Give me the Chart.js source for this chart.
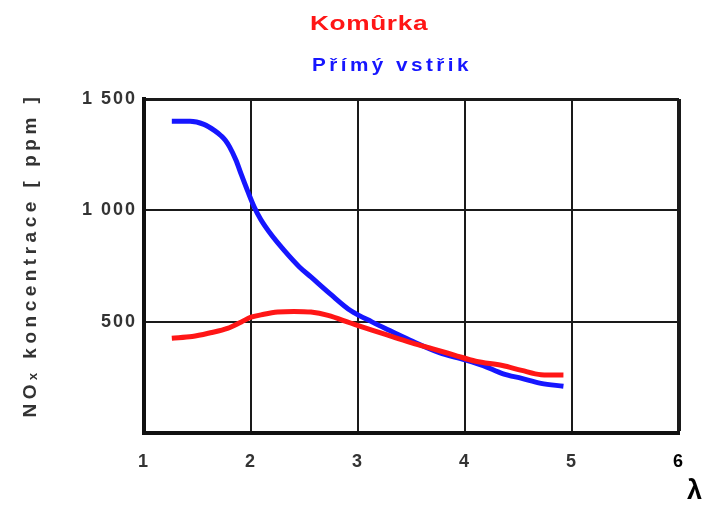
<!DOCTYPE html>
<html>
<head>
<meta charset="utf-8">
<script src="https://cdn.jsdelivr.net/npm/chart.js@4.4.0/dist/chart.umd.min.js"></script>
<style>
  html, body { margin: 0; padding: 0; background: #fff; }
  #wrap { width: 702px; height: 512px; }
</style>
</head>
<body>
<div id="wrap"><canvas id="noxChart"></canvas></div>
<script>
const seriesNames = ['Komûrka', 'Přímý vstřik'];
const komurkaX = [1.26, 1.45, 1.62, 1.78, 1.91, 2.0, 2.12, 2.25, 2.4, 2.56, 2.72, 2.93, 3.13, 3.32, 3.51, 3.7, 3.9, 4.1, 4.35, 4.53, 4.71, 4.92];
const komurkaY = [426, 433, 450, 470, 499, 520, 533, 543, 546, 543, 528, 494, 462, 433, 404, 378, 350, 322, 303, 281, 262, 260];
const vstrikX = [1.26, 1.43, 1.56, 1.66, 1.72, 1.76, 1.80, 1.86, 1.91, 1.97, 2.03, 2.09, 2.19, 2.31, 2.45, 2.56, 2.74, 2.93, 3.13, 3.32, 3.51, 3.76, 4.0, 4.17, 4.35, 4.53, 4.71, 4.92];
const vstrikY = [1400, 1400, 1386, 1358, 1335, 1315, 1285, 1225, 1160, 1085, 1015, 960, 890, 820, 747, 701, 625, 550, 499, 455, 412, 361, 329, 303, 267, 245, 223, 210];
const xTicks = [1, 2, 3, 4, 5, 6];
const yTicks = [0, 500, 1000, 1500];

const FONT = '"Liberation Sans", Arial, sans-serif';

function toPoints(xs, ys) {
  return xs.map((x, i) => ({ x: x, y: ys[i] }));
}

// czech style thousands: 1 500
function fmt(v) {
  if (v === 0) return '';
  const s = String(v);
  return s.length > 3 ? s.slice(0, -3) + ' ' + s.slice(-3) : s;
}

// nudge an axis title and letter-space it
function tweakTitle(scale, dx, dy, spacing) {
  if (scale._tweaked) return;
  const orig = scale.drawTitle.bind(scale);
  scale.drawTitle = function () {
    const ctx = this.ctx;
    ctx.save();
    ctx.translate(dx, dy);
    ctx.letterSpacing = spacing;
    orig();
    ctx.restore();
  };
  scale._tweaked = true;
}

const textTweaks = {
  id: 'textTweaks',
  beforeDraw(chart) {
    chart.ctx.letterSpacing = '2px';
    tweakTitle(chart.scales.y, 0, -11, '4.5px');
    tweakTitle(chart.scales.x, 23, 0, '0px');
  },
  afterDraw(chart) {
    // the two series names, stacked above the plot
    const ctx = chart.ctx;
    const area = chart.chartArea;
    chart.data.datasets.forEach((ds, i) => {
      ctx.save();
      ctx.textBaseline = 'middle';
      ctx.textAlign = 'left';
      ctx.font = i === 0 ? 'bold 21px ' + FONT : 'bold 18px ' + FONT;
      ctx.letterSpacing = i === 0 ? '0.5px' : '3px';
      ctx.fillStyle = ds.borderColor;
      ctx.translate(area.left + 166 + i * 2, 24 + i * 42);
      ctx.scale(i === 0 ? 1.25 : 1.15, 1);
      ctx.fillText(ds.label, 0, 0);
      ctx.restore();
    });
    ctx.letterSpacing = '0px';
  }
};

const data = {
  datasets: [
    {
      label: seriesNames[0],
      data: toPoints(komurkaX, komurkaY),
      borderColor: 'rgb(255, 22, 22)',
      backgroundColor: 'rgb(255, 22, 22)'
    },
    {
      label: seriesNames[1],
      data: toPoints(vstrikX, vstrikY),
      borderColor: 'rgb(22, 22, 255)',
      backgroundColor: 'rgb(22, 22, 255)'
    }
  ]
};

const config = {
  type: 'line',
  data: data,
  plugins: [textTweaks],
  options: {
    responsive: true,
    maintainAspectRatio: false,
    animation: false,
    layout: { padding: { top: 99, right: 19, left: 0, bottom: 0 } },
    plugins: {
      legend: { display: false },
      title: { display: false },
      tooltip: { enabled: false }
    },
    elements: {
      point: { radius: 0 },
      line: { borderWidth: 5, cubicInterpolationMode: 'monotone' }
    },
    scales: {
      x: {
        type: 'linear',
        min: 1,
        max: 6,
        afterFit: s => { s.height = 79; },
        afterBuildTicks: s => { s.ticks = xTicks.map(v => ({ value: v })); },
        ticks: {
          padding: 18,
          font: c => ({ family: FONT, size: 18, weight: 'bold' }),
          color: c => (c.tick && c.tick.value === 6 ? '#000' : '#333')
        },
        grid: {
          color: '#1a1a1a',
          lineWidth: c => (c.tick && c.tick.value === 6 ? 4 : 2),
          drawTicks: false
        },
        border: { color: '#111', width: 4 },
        title: {
          display: true,
          text: 'λ',
          align: 'end',
          color: '#000',
          font: { family: FONT, size: 27, weight: 'bold' },
          padding: { top: 0, bottom: 4 }
        }
      },
      y: {
        min: 0,
        max: 1500,
        afterFit: s => { s.width = 144; },
        afterBuildTicks: s => { s.ticks = yTicks.map(v => ({ value: v })); },
        ticks: {
          padding: 7,
          callback: v => fmt(v),
          font: { family: FONT, size: 18, weight: 'bold' },
          color: '#333'
        },
        grid: {
          color: '#1a1a1a',
          lineWidth: c => (c.tick && c.tick.value === 1500 ? 3 : 2),
          drawTicks: false
        },
        border: { color: '#111', width: 4 },
        title: {
          display: true,
          text: 'NOₓ koncentrace [ ppm ]',
          color: '#333',
          font: { family: FONT, size: 19, weight: 'bold' },
          padding: { top: 19, bottom: 0 }
        }
      }
    }
  }
};

const noxChart = new Chart(document.getElementById('noxChart'), config);
</script>
</body>
</html>
